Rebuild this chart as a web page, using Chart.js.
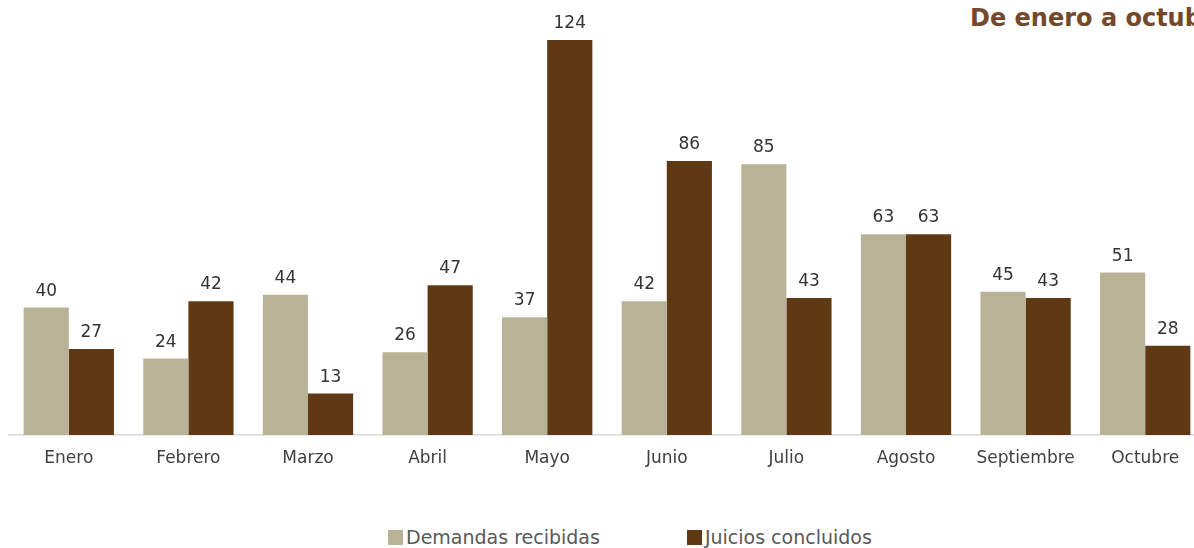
<!DOCTYPE html>
<html lang="es">
  <head>
    <meta charset="UTF-8" />
    <title>Demandas recibidas y juicios concluidos</title>
    <script src="https://cdn.jsdelivr.net/npm/chart.js"></script>
    <style>
      html, body {
        margin: 0;
        padding: 0;
        background: #fff;
        overflow: hidden;
        width: 1194px;
        height: 548px;
      }
      #wrap {
        position: relative;
        width: 1205px;
        height: 548px;
      }
      #chartBox {
        position: absolute;
        left: 0;
        top: 0;
        width: 1205px;
        height: 475px;
      }
      #title {
        position: absolute;
        left: 970px;
        top: 4px;
        white-space: nowrap;
        font-family: "DejaVu Sans", sans-serif;
        font-weight: bold;
        font-size: 24px;
        color: #74482a;
      }
      #legend {
        position: absolute;
        top: 526px;
        left: 388px;
        font-family: "DejaVu Sans", sans-serif;
        font-size: 19px;
        color: #595959;
        white-space: nowrap;
        line-height: 22px;
      }
      #legend span.item {
        display: inline-block;
        margin-right: 87px;
      }
      #legend i {
        display: inline-block;
        width: 15px;
        height: 15px;
        margin-right: 3px;
        vertical-align: -1px;
      }
    </style>
  </head>
  <body>
    <div id="wrap">
      <div id="title">De enero a octubre</div>
      <div id="chartBox"><canvas id="juicios"></canvas></div>
      <div id="legend"></div>
    </div>

    <script>
      // datos
      const meses = ["Enero", "Febrero", "Marzo", "Abril", "Mayo", "Junio", "Julio", "Agosto", "Septiembre", "Octubre"];
      const demandas = [40, 24, 44, 26, 37, 42, 85, 63, 45, 51];
      const concluidos = [27, 42, 13, 47, 124, 86, 43, 63, 43, 28];
      const nombres = ["Demandas recibidas", "Juicios concluidos"];
      const colores = ["#b8b396", "#5f3814"];

      // etiquetas de valor encima de cada barra
      const valueLabels = {
        id: "valueLabels",
        afterDatasetsDraw(chart) {
          const ctx = chart.ctx;
          ctx.save();
          ctx.font = "17px 'DejaVu Sans', sans-serif";
          ctx.fillStyle = "#333333";
          ctx.textAlign = "center";
          ctx.textBaseline = "alphabetic";
          chart.data.datasets.forEach((ds, i) => {
            chart.getDatasetMeta(i).data.forEach((bar, j) => {
              ctx.fillText(ds.data[j], bar.x, bar.y - 12);
            });
          });
          ctx.restore();
        },
      };

      new Chart(document.getElementById("juicios"), {
        type: "bar",
        data: {
          labels: meses,
          datasets: [
            { label: nombres[0], data: demandas, backgroundColor: colores[0] },
            { label: nombres[1], data: concluidos, backgroundColor: colores[1] },
          ],
        },
        options: {
          responsive: true,
          maintainAspectRatio: false,
          animation: false,
          layout: { padding: { left: 9, top: 40, right: 0, bottom: 0 } },
          datasets: {
            bar: { categoryPercentage: 0.755, barPercentage: 1.0 },
          },
          plugins: {
            legend: { display: false },
            tooltip: { enabled: false },
          },
          scales: {
            x: {
              grid: { display: false, drawTicks: false },
              border: { color: "#d9d9d9", width: 1.5 },
              ticks: {
                padding: 13,
                color: "#404040",
                font: { family: "'DejaVu Sans', sans-serif", size: 17 },
              },
              afterFit(scale) {
                scale.height = 40;
              },
            },
            y: {
              display: false,
              min: 0,
              max: 124,
            },
          },
        },
        plugins: [valueLabels],
      });

      // leyenda
      const legend = document.getElementById("legend");
      nombres.forEach((n, i) => {
        const item = document.createElement("span");
        item.className = "item";
        item.innerHTML = '<i style="background:' + colores[i] + '"></i>' + n;
        legend.appendChild(item);
      });
    </script>
  </body>
</html>
